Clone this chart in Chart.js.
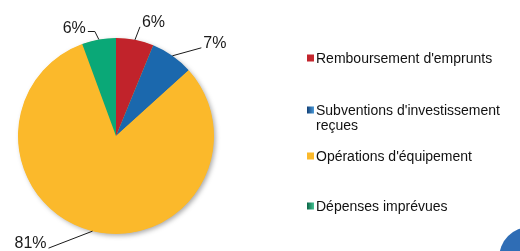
<!DOCTYPE html>
<html><head><meta charset="utf-8">
<script src="https://cdn.jsdelivr.net/npm/chart.js@4"></script>
<style>
html,body{margin:0;padding:0;background:#fff;overflow:hidden}
#wrap{position:relative;width:520px;height:251px;overflow:hidden}
#dot{position:absolute;left:499px;top:227px;width:62px;height:62px;border-radius:50%;background:#2f6db5}
canvas{position:absolute;left:0;top:0}
</style></head><body>
<div id="wrap"><canvas id="c" width="520" height="251"></canvas><div id="dot"></div></div>
<script>
const categories = ["Remboursement d'emprunts", "Subventions d'investissement reçues", "Opérations d'équipement", "Dépenses imprévues"];
const values = [6.2, 7.1, 81.1, 5.6];
const baseColors = ['#c1232b', '#1b68ad', '#fbb92b', '#0aa877'];
const lightColors = ['#c62a31', '#4a9bda', '#fbb92b', '#45c493'];

// style: leader line geometry relative to slice edge, label alignment
const leaderStyle = [
  {dx: 5, dy: -13, elbow: 0, align: 'left'},
  {dx: 29, dy: -8, elbow: 0, align: 'left'},
  {dx: -44, dy: 17, elbow: 0, align: 'right'},
  {dx: -4, dy: -8, elbow: -7, align: 'right'}
];
const legendRowY = [58, 110, 156, 206];

function sliceGradient(ctx, i) {
  const chart = ctx.chart;
  const meta = chart.getDatasetMeta(0);
  const arc = meta.data[ctx.dataIndex];
  if (!chart.chartArea || !arc || !arc.outerRadius) return baseColors[i];
  const mid = (arc.startAngle + arc.endAngle) / 2;
  const r = arc.outerRadius;
  const c = chart.ctx;
  const g = c.createLinearGradient(arc.x + Math.cos(mid) * r, arc.y + Math.sin(mid) * r - 10, arc.x - Math.cos(mid) * r * 0.1, arc.y + r * 0.1);
  g.addColorStop(0, baseColors[i]);
  g.addColorStop(1, lightColors[i]);
  return g;
}

const shadowPlugin = {
  id: 'shadow',
  beforeDatasetsDraw(chart) {
    const arc = chart.getDatasetMeta(0).data[0];
    if (!arc) return;
    const c = chart.ctx;
    c.save();
    c.shadowColor = 'rgba(0,0,0,0.35)';
    c.shadowBlur = 5;
    c.shadowOffsetX = 2;
    c.shadowOffsetY = 2;
    c.fillStyle = '#fbb92b';
    c.beginPath();
    c.arc(arc.x, arc.y, arc.outerRadius - 0.5, 0, Math.PI * 2);
    c.fill();
    c.restore();
  }
};

const labelPlugin = {
  id: 'labels',
  afterDatasetsDraw(chart) {
    const c = chart.ctx;
    const meta = chart.getDatasetMeta(0);
    const data = chart.data.datasets[0].data;
    const total = data.reduce((a, b) => a + b, 0);
    c.save();
    c.strokeStyle = '#1a1a1a';
    c.lineWidth = 1;
    c.fillStyle = '#1a1a1a';
    c.font = '16px "Liberation Sans", Arial, sans-serif';
    c.textBaseline = 'alphabetic';
    meta.data.forEach((arc, i) => {
      const st = leaderStyle[i];
      const mid = (arc.startAngle + arc.endAngle) / 2;
      const ex = arc.x + Math.cos(mid) * arc.outerRadius;
      const ey = arc.y + Math.sin(mid) * arc.outerRadius;
      let px = ex + st.dx, py = ey + st.dy;
      c.beginPath();
      c.moveTo(ex, ey);
      c.lineTo(px, py);
      if (st.elbow) { px += st.elbow; c.lineTo(px, py); }
      c.stroke();
      const txt = Math.round(data[i] / total * 100) + '%';
      c.textAlign = st.align;
      const tx = st.align === 'left' ? px + 2 : px - 2;
      c.fillText(txt, tx, py + (st.elbow ? 1 : 0));
    });
    c.restore();
  }
};

const legendPlugin = {
  id: 'sideLegend',
  afterDraw(chart) {
    const c = chart.ctx;
    c.save();
    c.font = '14px "Liberation Sans", Arial, sans-serif';
    c.textBaseline = 'middle';
    c.textAlign = 'left';
    const mx = 307, tx = 316, maxW = 196, lineH = 15;
    categories.forEach((label, i) => {
      const y = legendRowY[i];
      const g = c.createLinearGradient(mx, 0, mx + 7, 0);
      g.addColorStop(0, i === 1 ? '#123f75' : (i === 3 ? '#0a6446' : baseColors[i]));
      g.addColorStop(1, lightColors[i]);
      c.fillStyle = g;
      c.fillRect(mx, y - 3.5, 7, 7);
      const words = label.split(' ');
      const lines = [];
      let cur = '';
      words.forEach(w => {
        const t = cur ? cur + ' ' + w : w;
        if (c.measureText(t).width > maxW && cur) { lines.push(cur); cur = w; } else cur = t;
      });
      lines.push(cur);
      c.fillStyle = '#111';
      lines.forEach((ln, k) => c.fillText(ln, tx, y + 1 + k * lineH));
    });
    c.restore();
  }
};

new Chart(document.getElementById('c'), {
  type: 'pie',
  data: {
    labels: categories,
    datasets: [{
      data: values,
      backgroundColor: ctx => sliceGradient(ctx, ctx.dataIndex),
      borderWidth: 0
    }]
  },
  options: {
    responsive: false,
    animation: false,
    layout: {padding: {left: 18, right: 306, top: 38, bottom: 17}},
    plugins: {legend: {display: false}, tooltip: {enabled: false}}
  },
  plugins: [shadowPlugin, labelPlugin, legendPlugin]
});
</script>
</body></html>
